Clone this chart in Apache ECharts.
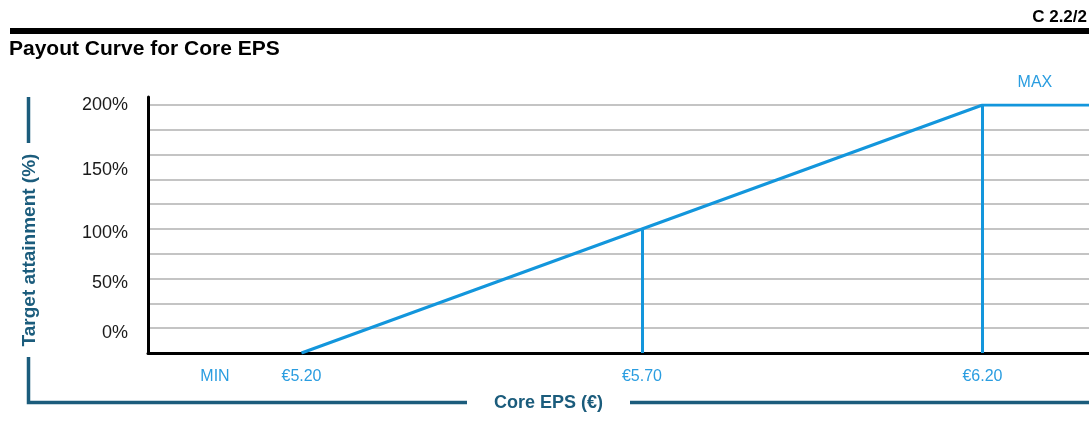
<!DOCTYPE html>
<html>
<head>
<meta charset="utf-8">
<script src="https://cdn.jsdelivr.net/npm/echarts@6/dist/echarts.min.js"></script>
<style>
  html, body { margin: 0; padding: 0; background: #fff; }
  #chart { width: 1089px; height: 438px; }
</style>
</head>
<body>
<div id="chart"></div>
<script>
// Core EPS thresholds (€) and the payout reached at each threshold (%)
const epsThresholds = [5.20, 5.70, 6.20];
const payoutPct = [0, 100, 200];

// Axis tick labels
const xTickValues = [5.20, 5.70, 6.20];
const xTickLabels = ['€5.20', '€5.70', '€6.20'];
const yTickLabels = ['0%', '50%', '100%', '150%', '200%'];
const yTickAt = [16, 56.5, 96.5, 147.5, 200];

// Texts
const chartTitle = 'Payout Curve for Core EPS';
const pageRef = 'C 2.2/2';
const xAxisTitle = 'Core EPS (€)';
const yAxisTitle = 'Target attainment (%)';
const minLabel = 'MIN';
const maxLabel = 'MAX';

// Layout / style
const X_MIN = 4.9746, X_MAX = 6.3564;
const BLUE = '#1396dc';
const LABEL_BLUE = '#2a9de0';
const TEAL = '#1b5c7c';
const FONT = '"Liberation Sans", Arial, Helvetica, sans-serif';

function nearestLabel(values, labels, v) {
  let best = 0;
  values.forEach((x, i) => { if (Math.abs(x - v) < Math.abs(values[best] - v)) best = i; });
  return labels[best];
}

// Payout curve: linear between thresholds, capped at the maximum beyond the top threshold
const curve = epsThresholds.map((e, i) => [e, payoutPct[i]]);
curve.push([X_MAX, payoutPct[payoutPct.length - 1]]);

// Drop lines from the target and maximum thresholds down to the axis
const dropLines = epsThresholds.slice(1).map((e, i) => [
  { coord: [e, 0] },
  { coord: [e, payoutPct[i + 1]] }
]);

const chart = echarts.init(document.getElementById('chart'), null, { renderer: 'canvas' });

chart.setOption({
  animation: false,
  backgroundColor: '#fff',
  textStyle: { fontFamily: FONT },
  grid: [
    { left: 148, right: 0, top: 105, bottom: 85 },
    { left: 148, right: 0, top: 97, bottom: 85 }
  ],
  xAxis: [
    {
      type: 'value', gridIndex: 0, min: X_MIN, max: X_MAX, offset: 1,
      axisLine: { show: true, lineStyle: { color: '#000', width: 3 } },
      axisTick: { show: false },
      splitLine: { show: false },
      axisLabel: {
        customValues: xTickValues,
        formatter: v => nearestLabel(xTickValues, xTickLabels, v),
        margin: 15, color: LABEL_BLUE, fontSize: 16, fontFamily: FONT
      }
    },
    { type: 'value', gridIndex: 1, min: 0, max: 1, show: false }
  ],
  yAxis: [
    {
      type: 'value', gridIndex: 0, min: 0, max: 200, interval: 20,
      axisLine: { show: false },
      axisTick: { show: false },
      splitLine: { show: true, lineStyle: { color: '#b0b0b0', width: 1.5 } },
      axisLabel: {
        customValues: yTickAt,
        formatter: v => nearestLabel(yTickAt, yTickLabels, v),
        margin: 20, color: '#1a1a1a', fontSize: 18, fontFamily: FONT
      }
    },
    {
      type: 'value', gridIndex: 1, min: 0, max: 1,
      axisLine: { show: true, onZero: false, lineStyle: { color: '#000', width: 3 } },
      axisTick: { show: false },
      axisLabel: { show: false },
      splitLine: { show: false }
    }
  ],
  series: [
    {
      type: 'line',
      xAxisIndex: 0, yAxisIndex: 0,
      data: curve,
      symbol: 'none',
      lineStyle: { color: BLUE, width: 3 },
      z: 5,
      markLine: {
        silent: true,
        symbol: ['none', 'none'],
        label: { show: false },
        lineStyle: { color: BLUE, width: 3, type: 'solid' },
        data: dropLines
      },
      markPoint: {
        silent: true,
        symbol: 'circle',
        symbolSize: 1,
        itemStyle: { color: 'rgba(0,0,0,0)' },
        label: {
          show: true, position: 'inside', formatter: '{b}',
          color: LABEL_BLUE, fontSize: 16, fontFamily: FONT
        },
        data: [
          { name: minLabel, coord: [5.073, 0], label: { offset: [0, 24] } },
          { name: maxLabel, coord: [6.277, 200], label: { offset: [0, -22] } }
        ]
      }
    }
  ],
  graphic: [
    { type: 'rect', shape: { x: 10, y: 28, width: 1079, height: 6 }, style: { fill: '#000' } },
    {
      type: 'text', x: 1087, y: 17,
      style: { text: pageRef, align: 'right', verticalAlign: 'middle', fill: '#000',
               fontSize: 17, fontWeight: 'bold', fontFamily: FONT }
    },
    {
      type: 'text', x: 9, y: 49,
      style: { text: chartTitle, align: 'left', verticalAlign: 'middle', fill: '#000',
               fontSize: 21, fontWeight: 'bold', fontFamily: FONT }
    },
    {
      type: 'text', x: 29.5, y: 250, rotation: Math.PI / 2,
      style: { text: yAxisTitle, align: 'center', verticalAlign: 'middle', fill: TEAL,
               fontSize: 19, fontWeight: 'bold', fontFamily: FONT }
    },
    {
      type: 'polyline', shape: { points: [[28.5, 97], [28.5, 143]] },
      style: { stroke: TEAL, lineWidth: 3.5, fill: null }
    },
    {
      type: 'polyline', shape: { points: [[28.5, 357], [28.5, 402.5], [467, 402.5]] },
      style: { stroke: TEAL, lineWidth: 3.5, fill: null }
    },
    {
      type: 'polyline', shape: { points: [[630, 402.5], [1089, 402.5]] },
      style: { stroke: TEAL, lineWidth: 3.5, fill: null }
    },
    {
      type: 'text', x: 548.5, y: 403,
      style: { text: xAxisTitle, align: 'center', verticalAlign: 'middle', fill: TEAL,
               fontSize: 18, fontWeight: 'bold', fontFamily: FONT }
    }
  ]
});
</script>
</body>
</html>
